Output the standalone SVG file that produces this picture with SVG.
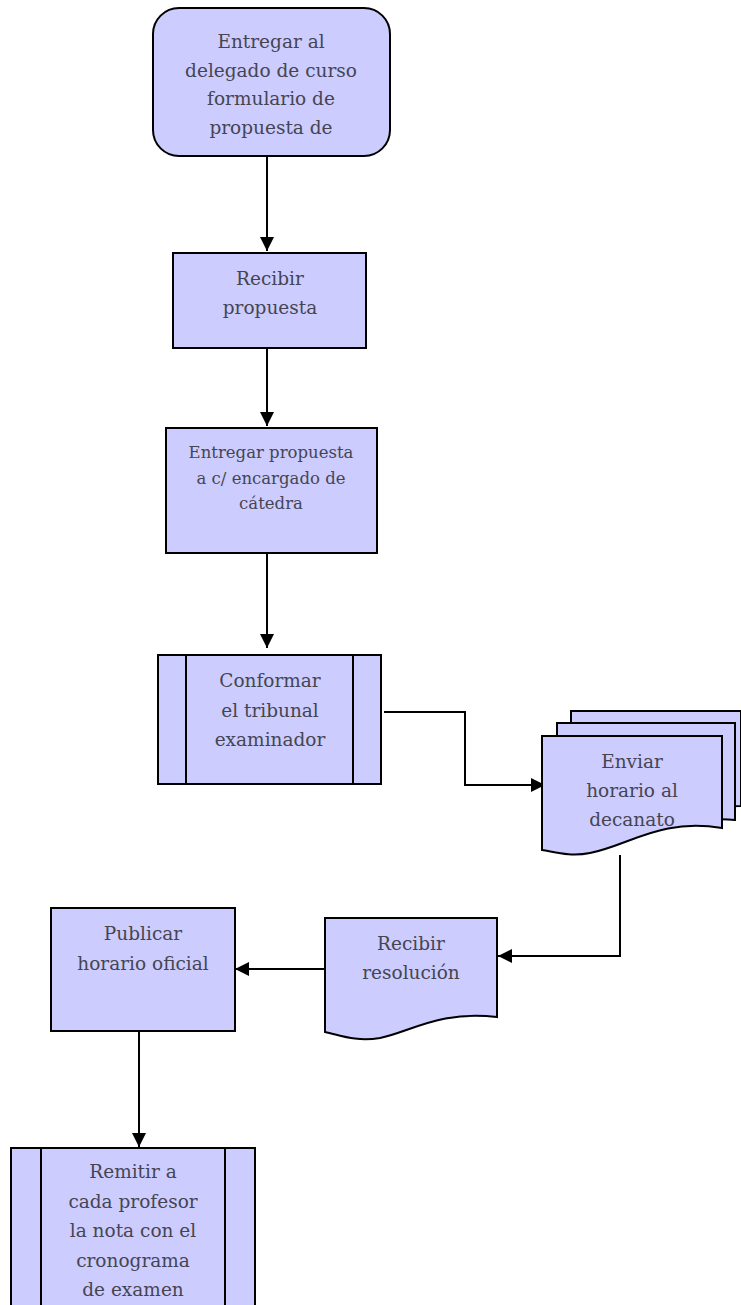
<svg xmlns="http://www.w3.org/2000/svg" width="741" height="1305" viewBox="0 0 741 1305">
  <defs>
    <style>
      .box { fill: #ccccff; stroke: #000; stroke-width: 2; }
      .edge { fill: none; stroke: #000; stroke-width: 2; }
      .lbl { font-family: "DejaVu Serif", "Liberation Serif", serif; font-size: 18.5px; fill: #454552; text-anchor: middle; }
      .sm { font-size: 16.5px; }
    </style>
    <marker id="arrow" viewBox="0 0 14 14" refX="14" refY="7" markerWidth="14" markerHeight="14" markerUnits="userSpaceOnUse" orient="auto">
      <path d="M0,0 L14,7 L0,14 Z" fill="#000"/>
    </marker>
  </defs>
  <rect width="741" height="1305" fill="#fff"/>

  <g id="connectors">
    <path class="edge" d="M267,156 V251" marker-end="url(#arrow)"/>
    <path class="edge" d="M267,348 V426" marker-end="url(#arrow)"/>
    <path class="edge" d="M267,553 V648" marker-end="url(#arrow)"/>
    <path class="edge" d="M384,712 H465 V785 H545" marker-end="url(#arrow)"/>
    <path class="edge" d="M620,855 V956 H498" marker-end="url(#arrow)"/>
    <path class="edge" d="M325,969 H235" marker-end="url(#arrow)"/>
    <path class="edge" d="M139,1031 V1147" marker-end="url(#arrow)"/>
  </g>

  <g id="n1">
    <rect class="box" x="153" y="8" width="237" height="148" rx="26"/>
    <text class="lbl"><tspan x="271" y="48">Entregar al</tspan><tspan x="271" y="77">delegado de curso</tspan><tspan x="271" y="105">formulario de</tspan><tspan x="271" y="134">propuesta de</tspan></text>
  </g>

  <g id="n2">
    <rect class="box" x="173" y="253" width="193" height="95"/>
    <text class="lbl"><tspan x="270" y="285">Recibir</tspan><tspan x="270" y="314">propuesta</tspan></text>
  </g>

  <g id="n3">
    <rect class="box" x="166" y="428" width="211" height="125"/>
    <text class="lbl sm"><tspan x="271" y="458">Entregar propuesta</tspan><tspan x="271" y="484">a c/ encargado de</tspan><tspan x="271" y="509">cátedra</tspan></text>
  </g>

  <g id="n4">
    <rect class="box" x="158" y="655" width="223" height="129"/>
    <line class="edge" x1="186" y1="655" x2="186" y2="784"/>
    <line class="edge" x1="353" y1="655" x2="353" y2="784"/>
    <text class="lbl"><tspan x="270" y="687">Conformar</tspan><tspan x="270" y="717">el tribunal</tspan><tspan x="270" y="746">examinador</tspan></text>
  </g>

  <g id="n5">
    <path class="box" d="M571,711 H741 V806 C 720,806 700,810 690,812 L571,812 Z"/>
    <path class="box" d="M557,723 H735 V820 C 700,816 680,828 650,830 L557,830 Z"/>
    <path class="box" d="M542,736 H722 V828 C 660,818 630,845 590,853 C 570,857 555,852 542,850 Z"/>
    <text class="lbl"><tspan x="632" y="768">Enviar</tspan><tspan x="632" y="797">horario al</tspan><tspan x="632" y="826">decanato</tspan></text>
  </g>

  <g id="n6">
    <path class="box" d="M325,918 H497 V1017 C 440,1010 410,1032 380,1038 C 355,1042 340,1035 325,1032 Z"/>
    <text class="lbl"><tspan x="411" y="950">Recibir</tspan><tspan x="411" y="979">resolución</tspan></text>
  </g>

  <g id="n7">
    <rect class="box" x="51" y="908" width="184" height="123"/>
    <text class="lbl"><tspan x="143" y="940">Publicar</tspan><tspan x="143" y="970">horario oficial</tspan></text>
  </g>

  <g id="n8">
    <rect class="box" x="11" y="1148" width="244" height="170"/>
    <line class="edge" x1="41" y1="1148" x2="41" y2="1318"/>
    <line class="edge" x1="225" y1="1148" x2="225" y2="1318"/>
    <text class="lbl"><tspan x="133" y="1178">Remitir a</tspan><tspan x="133" y="1208">cada profesor</tspan><tspan x="133" y="1237">la nota con el</tspan><tspan x="133" y="1267">cronograma</tspan><tspan x="133" y="1296">de examen</tspan></text>
  </g>
</svg>
